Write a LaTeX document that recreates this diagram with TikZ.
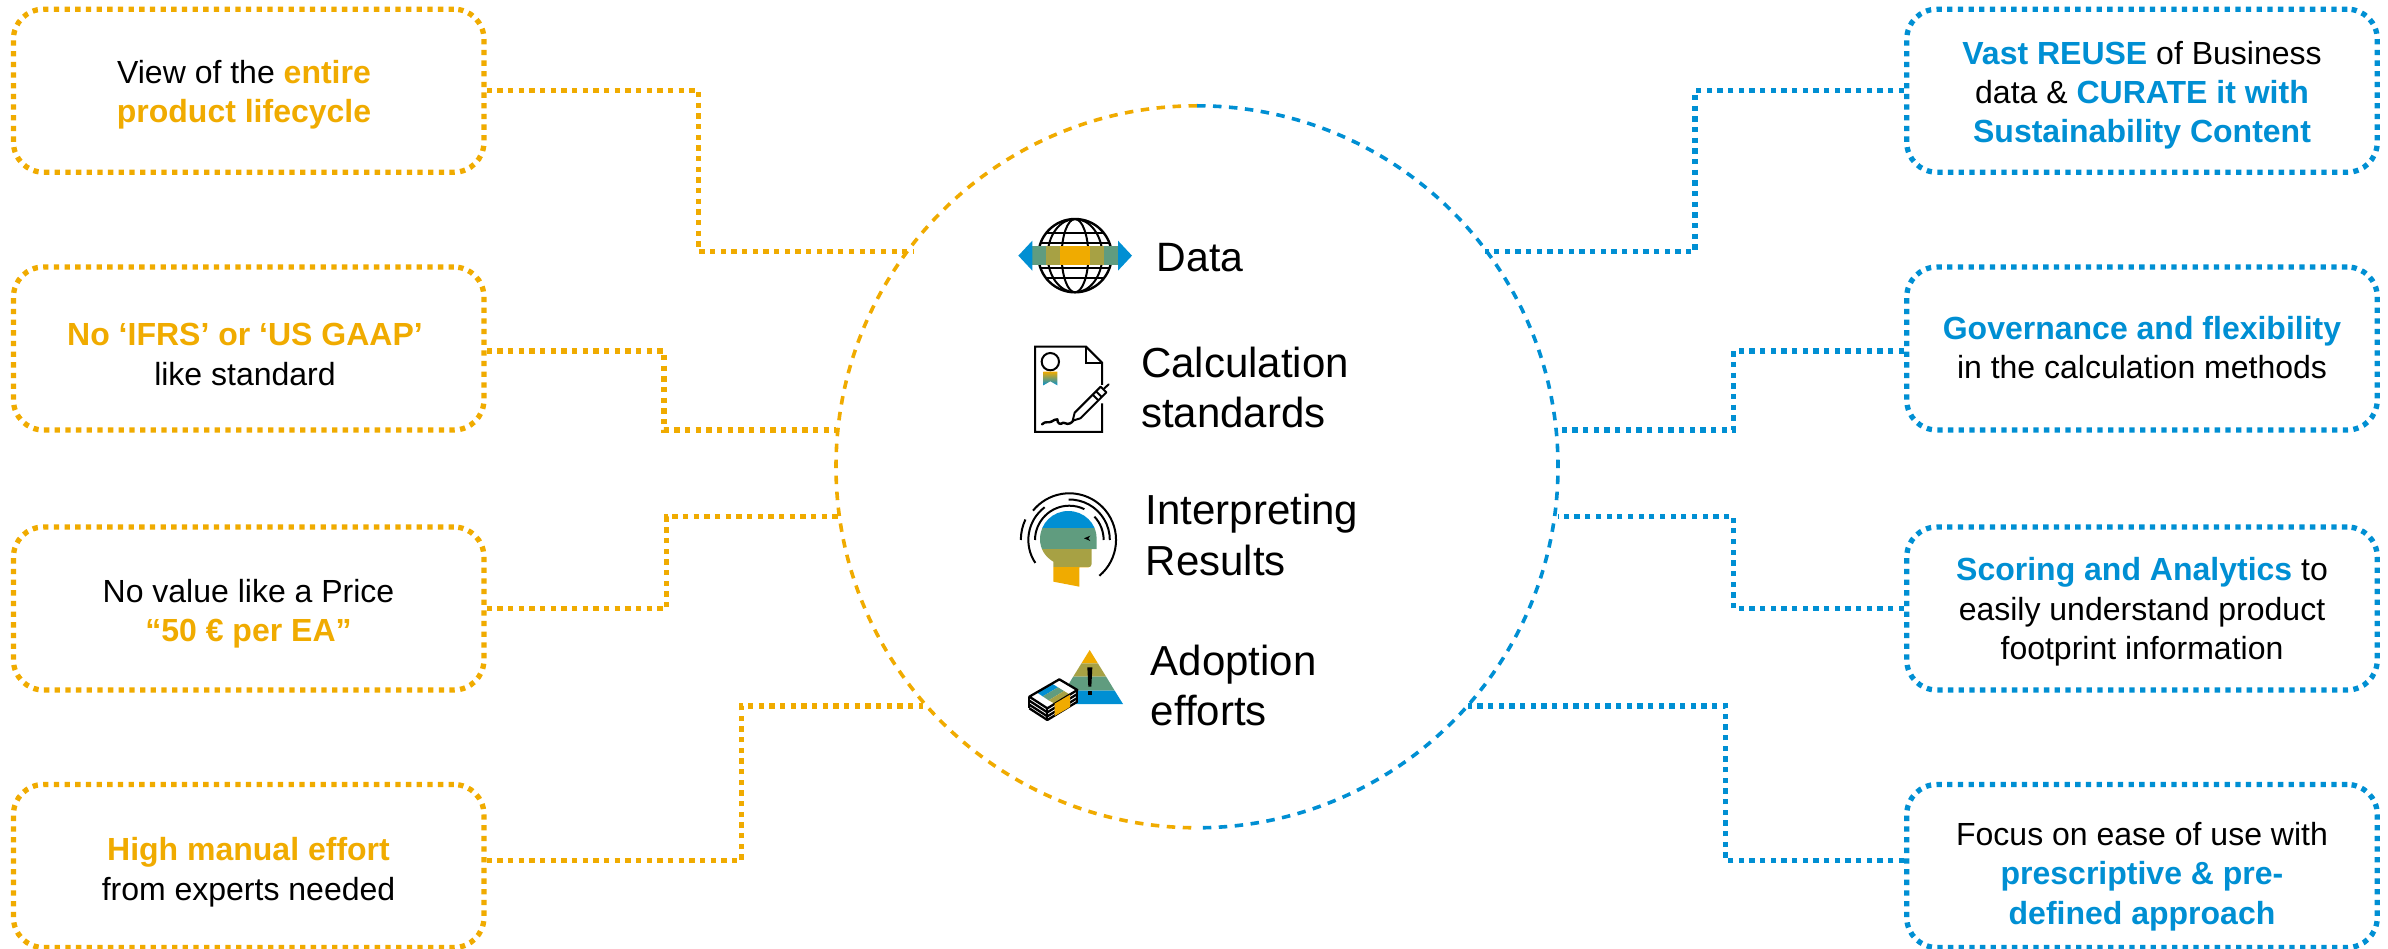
\documentclass[tikz,border=0pt]{standalone}
\usepackage{fontspec}
\setmainfont{Liberation Sans}
\definecolor{sapgold}{HTML}{F0AB00}
\definecolor{sapblue}{HTML}{008FD3}
\definecolor{sapgreen}{HTML}{609C7F}
\definecolor{sapolive}{HTML}{A7A144}
\newcommand{\go}[1]{\textcolor{sapgold}{\textbf{#1}}}
\newcommand{\bl}[1]{\textcolor{sapblue}{\textbf{#1}}}
\tikzset{
  box/.style={draw=#1,line width=5.3pt,dash pattern=on 5.3pt off 5.37pt,rounded corners=30pt,
    minimum width=470.5pt,minimum height=163pt,inner sep=0pt},
  link/.style={draw=#1,line width=5.3pt,dash pattern=on 5.3pt off 5.37pt},
  rim/.style={draw=#1,line width=3.6pt,dash pattern=on 8.5pt off 7.5pt},
  boxtext/.style={align=center,inner sep=0pt,anchor=base,font=\fontsize{32}{39.3}\selectfont},
  hubtext/.style={align=left,inner sep=0pt,anchor=base west,font=\fontsize{42}{50.5}\selectfont},
  ink/.style={draw=black,line width=2pt},
  zoomed/.style={shift={#1},x=0.33333pt,y=-0.33333pt}
}
\begin{document}
\begin{tikzpicture}[x=1pt,y=-1pt]
\useasboundingbox (0,0) rectangle (2388,949);

% hub circle
\node[circle,inner sep=0pt,minimum size=722pt] (hub) at (1197,467) {};
\draw[rim=sapgold] (hub.north) arc[start angle=90,end angle=270,radius=361pt];
\draw[rim=sapblue] (hub.north) arc[start angle=90,end angle=-90,radius=361pt];

% left boxes
\node[box=sapgold] (L1) at (248.7,90.7) {};
\node[box=sapgold] (L2) at (248.7,348.5) {};
\node[box=sapgold] (L3) at (248.7,608.5) {};
\node[box=sapgold] (L4) at (248.7,866) {};
% right boxes
\node[box=sapblue] (R1) at (2142,90.7) {};
\node[box=sapblue] (R2) at (2142,348.5) {};
\node[box=sapblue] (R3) at (2142,608.5) {};
\node[box=sapblue] (R4) at (2142,866) {};

% connector ends and bends
\coordinate (l1e) at (914,251.3);   \coordinate (l1j) at (698.7,251.3);
\coordinate (l2e) at (836,430);     \coordinate (l2j) at (664,430);
\coordinate (l3e) at (838,516.7);   \coordinate (l3j) at (666.7,516.7);
\coordinate (l4e) at (923,706);     \coordinate (l4j) at (741.7,706);
\coordinate (r1e) at (1485,251.3);  \coordinate (r1j) at (1695,251.3);
\coordinate (r2e) at (1558,430);    \coordinate (r2j) at (1733.7,430);
\coordinate (r3e) at (1558,516.7);  \coordinate (r3j) at (1733.7,516.7);
\coordinate (r4e) at (1468,706);    \coordinate (r4j) at (1725.7,706);

\draw[link=sapgold] (L1.east) -| (l1j) -- (l1e);
\draw[link=sapgold] ([yshift=-2.5pt]L2.east) -| (l2j) -- (l2e);
\draw[link=sapgold] (L3.east) -| (l3j) -- (l3e);
\draw[link=sapgold] ([yshift=5.3pt]L4.east) -| (l4j) -- (l4e);
\draw[link=sapblue] (R1.west) -| (r1j) -- (r1e);
\draw[link=sapblue] ([yshift=-2.5pt]R2.west) -| (r2j) -- (r2e);
\draw[link=sapblue] (R3.west) -| (r3j) -- (r3e);
\draw[link=sapblue] ([yshift=5.3pt]R4.west) -| (r4j) -- (r4e);

% box texts (anchored on the baseline of the last line)
\node[boxtext] (tL1) at (244,123) {View of the \go{entire}\\\go{product lifecycle}};
\node[boxtext] (tL2) at (245,385) {\go{No ‘IFRS’ or ‘US GAAP’}\\like standard};
\node[boxtext] (tL3) at (248.5,641.4) {No value like a Price\\\go{“50 € per EA”}};
\node[boxtext] (tL4) at (248.5,900) {\go{High manual effort}\\from experts needed};
\node[boxtext] (tR1) at (2142,142.7) {\bl{Vast REUSE} of Business\\data \& \bl{CURATE it with}\\\bl{Sustainability Content}};
\node[boxtext] (tR2) at (2142,378.3) {\bl{Governance and flexibility}\\in the calculation methods};
\node[boxtext] (tR3) at (2142,659.3) {\bl{Scoring and Analytics} to\\easily understand product\\footprint information};
\node[boxtext] (tR4) at (2142,924) {Focus on ease of use with\\\bl{prescriptive \& pre-}\\\bl{defined approach}};

% hub texts
\node[hubtext,font=\fontsize{41}{50.5}\selectfont] (tData) at (1156.7,272) {Data};
\node[hubtext] (tCalc) at (1141,427.7) {Calculation\\standards};
\node[hubtext] (tInt) at (1145.7,575) {Interpreting\\Results};
\node[hubtext] (tAdo) at (1150.7,725.7) {Adoption\\efforts};

% globe icon
\begin{scope}[zoomed={(980,190)}]
  \coordinate (gc) at (285,197);
  \begin{scope}
    \clip (gc) circle[radius=110];
    \draw[ink] (gc) ellipse[x radius=40,y radius=110];
    \draw[ink] (gc) ellipse[x radius=82,y radius=110];
    \foreach \d in {-68,-37,37,68} \draw[ink] (150,197+\d) -- (420,197+\d);
  \end{scope}
  \draw[line width=2.4pt,draw=black] (gc) circle[radius=110];
  \fill[sapgreen] (155,168) rectangle (198,225);
  \fill[sapolive] (198,168) rectangle (240,225);
  \fill[sapgold] (240,168) rectangle (330,225);
  \fill[sapolive] (330,168) rectangle (372,225);
  \fill[sapgreen] (372,168) rectangle (415,225);
  \fill[sapblue] (115,197) -- (157,152) -- (157,242) -- cycle;
  \fill[sapblue] (456,197) -- (414,152) -- (414,242) -- cycle;
\end{scope}

% document icon
\begin{scope}[zoomed={(980,190)}]
  \draw[ink,line join=miter] (366,585) -- (366,518) -- (318,470) -- (165,470) -- (165,726) -- (366,726) -- (366,640);
  \draw[ink] (318,470) -- (318,518) -- (366,518);
  \draw[ink] (211,515) circle[radius=26];
  \shade[top color=sapgold,middle color=sapgreen,bottom color=sapblue]
    (190,545) -- (232,545) -- (232,586) -- (211,574) -- (190,586) -- cycle;
  \draw[ink,line join=round] (284,668) -- (348,604) -- (365,621) -- (301,685) -- (278,692) -- cycle;
  \draw[ink,line join=round] (348,604) -- (362,590) -- (379,607) -- (365,621);
  \draw[ink,line cap=round] (372,596) -- (386,583);
  \draw[ink] (338,614) -- (355,631);
  \draw[ink,line width=2.4pt,line join=round,line cap=round]
    (186,703) .. controls (196,692) and (206,700) .. (214,695)
    .. controls (222,688) and (226,690) .. (232,688)
    .. controls (232,700) and (240,706) .. (250,698)
    .. controls (258,700) and (266,708) .. (280,692);
\end{scope}

% head icon
\begin{scope}[zoomed={(1010,485)}]
  \coordinate (hc) at (178,165);
  \begin{scope}
    \clip (130,290) -- (130,230) .. controls (105,215) and (90,192) .. (90,162)
      .. controls (90,115) and (128,78) .. (175,78) .. controls (222,78) and (260,115) .. (260,160)
      -- (260,192) -- (245,192) -- (245,237) .. controls (245,243) and (240,247) .. (235,247)
      -- (208,247) -- (208,305) -- cycle;
    \fill[sapblue] (80,70) rectangle (270,130);
    \fill[sapgreen] (80,130) rectangle (270,192);
    \fill[sapolive] (80,192) rectangle (270,247);
    \fill[sapgold] (80,247) rectangle (270,310);
  \end{scope}
  \fill[black] (222,160) -- (241,152) -- (235,160) -- (241,168) -- cycle;
  \draw[ink] (hc) ++(-50:46.7pt) arc[start angle=-50,end angle=141,radius=46.7pt];
  \draw[ink] (hc) ++(155:48.5pt) arc[start angle=155,end angle=180,radius=48.5pt];
  \draw[ink] (hc) ++(127:41pt) arc[start angle=127,end angle=214,radius=41pt];
  \draw[ink] (hc) ++(91:40.5pt) arc[start angle=91,end angle=0,radius=40.5pt];
  \draw[ink] (hc) ++(180:34.3pt) arc[start angle=180,end angle=64,radius=34.3pt];
  \draw[ink] (hc) ++(43:34.3pt) arc[start angle=43,end angle=0,radius=34.3pt];
\end{scope}

% pyramid and money icon
\begin{scope}[zoomed={(1020,640)}]
  \fill[sapgold] (209,30) -- (233.7,70) -- (184.3,70) -- cycle;
  \fill[sapolive] (184.3,70) -- (233.7,70) -- (258.4,110) -- (159.6,110) -- cycle;
  \fill[sapgreen] (159.6,110) -- (258.4,110) -- (284,152) -- (134,152) -- cycle;
  \fill[sapblue] (134,152) -- (284,152) -- (309,192) -- (109,192) -- cycle;
  \fill[black] (202,82) -- (217,82) -- (214,140) -- (205,140) -- cycle;
  \fill[black] (203,152) rectangle (216,165);
  \fill[white] (28,170) -- (118,118) -- (172,150) -- (172,185) -- (82,240) -- (28,205) -- cycle;
  \fill[sapblue] (50,157) -- (96,131) -- (114,142) -- (68,169) -- cycle;
  \fill[sapgreen] (68,169) -- (114,142) -- (132,153) -- (86,181) -- cycle;
  \fill[sapolive] (86,181) -- (132,153) -- (150,164) -- (104,191) -- cycle;
  \draw[ink,line width=2.3pt,line join=round] (28,170) -- (118,118) -- (172,150) -- (82,205) -- cycle;
  \foreach \d in {12,24,35}
    \draw[ink,line width=2.3pt,line join=round] (28,170+\d) -- (82,205+\d) -- (172,150+\d);
  \draw[ink,line width=2.3pt] (28,170) -- (28,205) (82,205) -- (82,240) (172,150) -- (172,185);
  \fill[sapgold] (104,191) -- (150,164) -- (150,201) -- (104,228) -- cycle;
\end{scope}
\end{tikzpicture}
\end{document}
